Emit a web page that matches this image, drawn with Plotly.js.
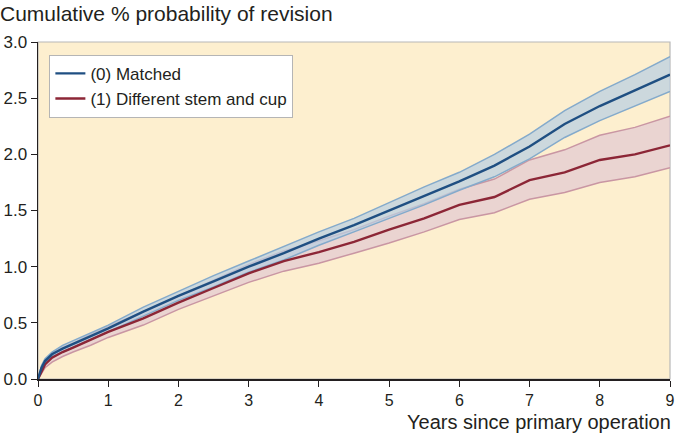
<!DOCTYPE html>
<html>
<head>
<meta charset="utf-8">
<script src="https://cdn.plot.ly/plotly-3.0.1.min.js"></script>
<style>html,body{margin:0;padding:0;background:#fff;}#chart{width:676px;height:435px;}</style>
</head>
<body>
<div id="chart"></div>
<script>
// Years since primary operation
const years = [0, 0.05, 0.1, 0.2, 0.35, 0.5, 0.75, 1, 1.5, 2, 2.5, 3, 3.5, 4, 4.5, 5, 5.5, 6, 6.5, 7, 7.5, 8, 8.5, 9];

// (0) Matched
const matched      = [0, 0.10, 0.16, 0.22, 0.27, 0.31, 0.38, 0.45, 0.60, 0.74, 0.87, 1.00, 1.12, 1.25, 1.37, 1.50, 1.63, 1.76, 1.90, 2.07, 2.27, 2.43, 2.57, 2.71];
const matchedUpper = [0, 0.12, 0.18, 0.24, 0.30, 0.34, 0.41, 0.48, 0.64, 0.78, 0.92, 1.05, 1.18, 1.31, 1.43, 1.57, 1.71, 1.84, 2.00, 2.18, 2.39, 2.56, 2.71, 2.87];
const matchedLower = [0, 0.08, 0.14, 0.20, 0.24, 0.28, 0.35, 0.42, 0.56, 0.70, 0.82, 0.95, 1.06, 1.19, 1.31, 1.43, 1.55, 1.68, 1.80, 1.96, 2.15, 2.30, 2.43, 2.56];

// (1) Different stem and cup
const different      = [0, 0.07, 0.13, 0.19, 0.24, 0.28, 0.35, 0.42, 0.54, 0.68, 0.81, 0.94, 1.05, 1.13, 1.22, 1.33, 1.43, 1.55, 1.62, 1.77, 1.84, 1.95, 2.00, 2.08];
const differentUpper = [0, 0.10, 0.16, 0.23, 0.28, 0.32, 0.40, 0.47, 0.60, 0.74, 0.88, 1.02, 1.14, 1.23, 1.33, 1.45, 1.56, 1.69, 1.78, 1.95, 2.04, 2.17, 2.24, 2.34];
const differentLower = [0, 0.05, 0.10, 0.15, 0.20, 0.24, 0.30, 0.37, 0.48, 0.62, 0.74, 0.86, 0.96, 1.03, 1.12, 1.21, 1.31, 1.42, 1.48, 1.60, 1.66, 1.75, 1.80, 1.88];

const seriesNames = ["(0) Matched", "(1) Different stem and cup"];
const xTicks = [0, 1, 2, 3, 4, 5, 6, 7, 8, 9];
const yTicks = [0, 0.5, 1.0, 1.5, 2.0, 2.5, 3.0];

const blue = "#1f4f82", blueCI = "#84aacb", blueFill = "rgba(185,207,226,0.72)";
const red = "#8c2636", redCI = "#c996a3", redFill = "rgba(222,196,210,0.62)";

function band(upper, lower, lineCol, fillCol) {
  return [
    {x: years, y: lower, type: "scatter", mode: "lines", line: {color: lineCol, width: 1.5}, showlegend: false, hoverinfo: "skip"},
    {x: years, y: upper, type: "scatter", mode: "lines", line: {color: lineCol, width: 1.5}, fill: "tonexty", fillcolor: fillCol, showlegend: false, hoverinfo: "skip"}
  ];
}

const data = [
  ...band(differentUpper, differentLower, redCI, redFill),
  ...band(matchedUpper, matchedLower, blueCI, blueFill),
  {x: years, y: different, type: "scatter", mode: "lines", name: seriesNames[1], line: {color: red, width: 2.4}},
  {x: years, y: matched, type: "scatter", mode: "lines", name: seriesNames[0], line: {color: blue, width: 2.4}}
];

const font = "'Liberation Sans', Arial, Helvetica, sans-serif";
const layout = {
  width: 676, height: 435,
  margin: {l: 38, r: 6, t: 42, b: 56},
  paper_bgcolor: "#ffffff",
  plot_bgcolor: "#fdefcf",
  font: {family: font, size: 17, color: "#231f20"},
  title: {text: "Cumulative % probability of revision", x: 0, xref: "container", xanchor: "left", y: 0.968, yref: "container", yanchor: "middle", font: {family: font, size: 21, color: "#231f20"}},
  xaxis: {range: [0, 9], tickvals: xTicks, ticktext: xTicks.map(String), showgrid: false, zeroline: false, showline: true, linecolor: "#231f20", linewidth: 1.5, ticks: "outside", ticklen: 6, tickcolor: "#231f20", tickfont: {size: 16}},
  yaxis: {range: [0, 3], tickvals: yTicks, ticktext: yTicks.map(v => v.toFixed(1)), showgrid: false, zeroline: false, showline: true, linecolor: "#231f20", linewidth: 1.5, ticks: "outside", ticklen: 6, tickcolor: "#231f20", tickfont: {size: 17}},
  showlegend: true,
  legend: {x: 0.018, y: 0.962, xanchor: "left", yanchor: "top", bgcolor: "#ffffff", bordercolor: "#b5b5b5", borderwidth: 1, font: {size: 17, color: "#231f20"}, traceorder: "reversed", tracegroupgap: 0, itemwidth: 30},
  shapes: [{type: "rect", xref: "paper", yref: "paper", x0: 0, x1: 1, y0: 0, y1: 1, line: {color: "#b8b8b8", width: 1.2}, layer: "below"}],
  annotations: [{text: "Years since primary operation", xref: "paper", yref: "paper", x: 1.005, y: -0.128, xanchor: "right", yanchor: "middle", showarrow: false, font: {family: font, size: 20, color: "#231f20"}}]
};

Plotly.newPlot("chart", data, layout, {staticPlot: true, displayModeBar: false});
</script>
</body>
</html>
